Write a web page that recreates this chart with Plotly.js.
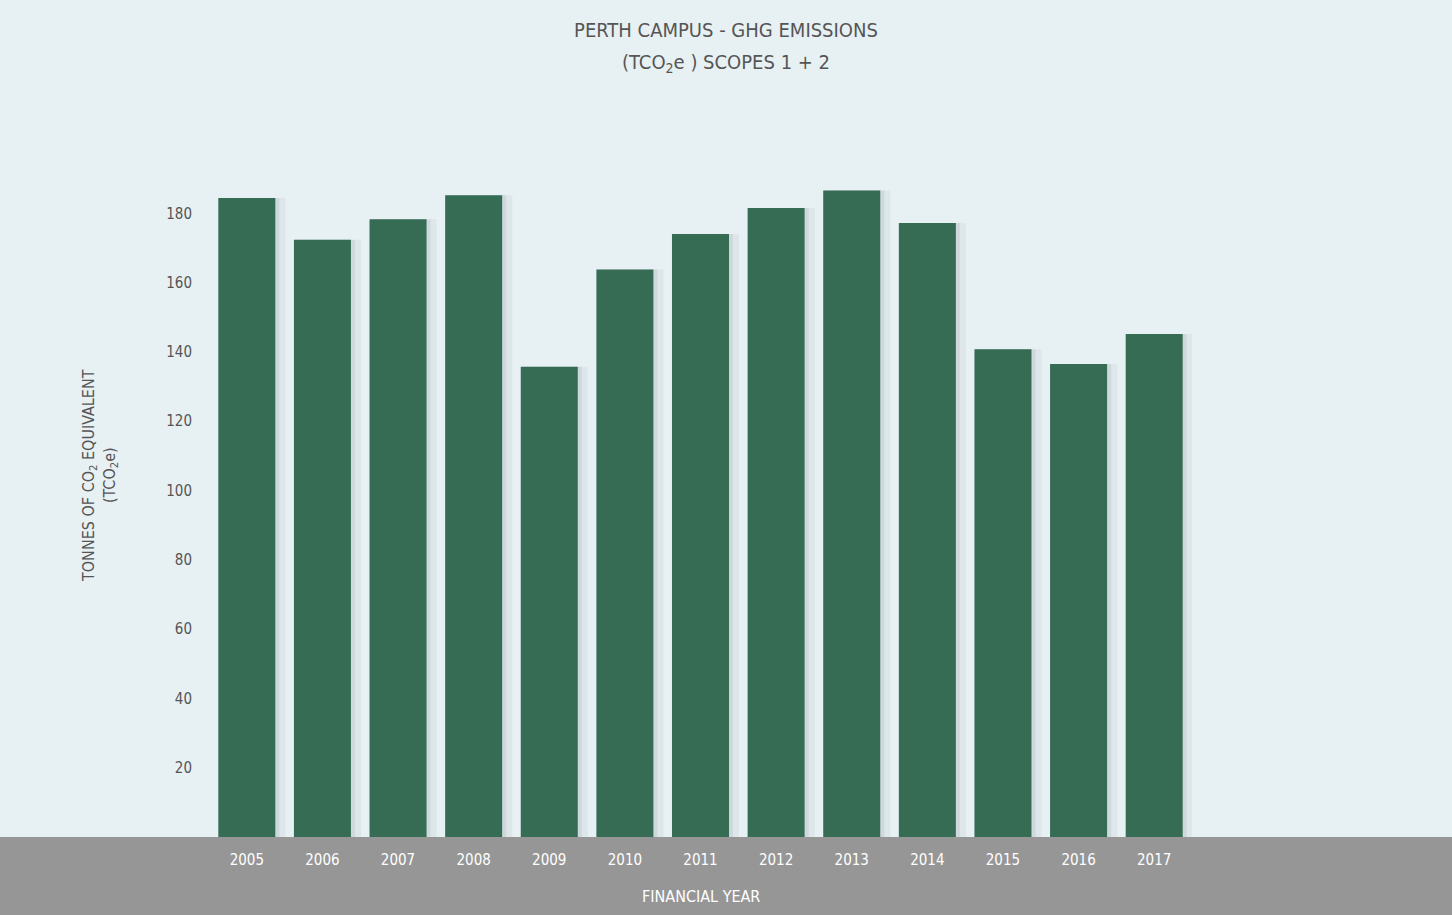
<!DOCTYPE html>
<html>
<head>
<meta charset="utf-8">
<script src="https://cdn.plot.ly/plotly-3.0.1.min.js"></script>
<style>
  html, body { margin: 0; padding: 0; background: #e7f0f3; }
  #chart { width: 1452px; height: 915px; }
</style>
</head>
<body>
<div id="chart"></div>
<script>
const years = ["2005","2006","2007","2008","2009","2010","2011","2012","2013","2014","2015","2016","2017"];
const emissions = [184.4, 172.4, 178.3, 185.2, 135.7, 163.8, 174.0, 181.5, 186.6, 177.2, 140.8, 136.5, 145.2];
const yTicks = [20, 40, 60, 80, 100, 120, 140, 160, 180];

const FONT = "DejaVu Sans Condensed, DejaVu Sans, sans-serif";
const TEXT = "#555555";

function shadowTrace(offset, width, alpha) {
  return {
    type: "bar",
    x: years,
    y: emissions,
    width: width,
    offset: offset,
    marker: { color: "rgba(70,80,85," + alpha + ")", line: { width: 0 } },
    hoverinfo: "skip",
    showlegend: false
  };
}

const bars = {
  type: "bar",
  x: years,
  y: emissions,
  width: 0.754,
  marker: { color: "#366b54", line: { width: 0 } },
  showlegend: false
};

const layout = {
  width: 1452,
  height: 915,
  paper_bgcolor: "#e7f0f3",
  plot_bgcolor: "rgba(0,0,0,0)",
  margin: { l: 209, r: 260, t: 144, b: 78 },
  barmode: "overlay",
  title: {
    text: "PERTH CAMPUS - GHG EMISSIONS",
    x: 0.5, xanchor: "center",
    y: 1 - 30 / 915, yanchor: "middle",
    font: { family: FONT, size: 20, color: TEXT, stretch: "condensed" }
  },
  xaxis: {
    type: "category",
    range: [-0.5, 12.5],
    showgrid: false, zeroline: false, showline: false,
    ticks: "outside", ticklen: 9, tickcolor: "rgba(0,0,0,0)",
    tickfont: { family: FONT, size: 15, color: "#ffffff", stretch: "condensed" },
    fixedrange: true
  },
  yaxis: {
    range: [0, 200],
    tickvals: yTicks,
    ticktext: yTicks.map(String),
    showgrid: false, zeroline: false, showline: false,
    ticks: "outside", ticklen: 13, tickcolor: "rgba(0,0,0,0)",
    tickfont: { family: FONT, size: 15, color: TEXT, stretch: "condensed" },
    fixedrange: true
  },
  shapes: [{
    type: "rect", xref: "paper", yref: "paper",
    x0: -0.3, x1: 1.4, y0: -0.2, y1: 0,
    fillcolor: "#969696", line: { width: 0 }, layer: "below"
  }],
  annotations: [
    {
      text: "(TCO<sub>2</sub>e ) SCOPES 1 + 2",
      xref: "paper", yref: "paper",
      x: (726 - 209) / 983, y: (837 - 63) / 693,
      xanchor: "center", yanchor: "middle",
      showarrow: false,
      font: { family: FONT, size: 20, color: TEXT, stretch: "condensed" }
    },
    {
      text: "TONNES OF CO<sub>2</sub> EQUIVALENT<br>(TCO<sub>2</sub>e)",
      xref: "paper", yref: "paper",
      x: (100 - 209) / 983, y: (837 - 476) / 693,
      xanchor: "center", yanchor: "middle",
      textangle: -90, showarrow: false,
      font: { family: FONT, size: 16, color: TEXT, stretch: "condensed" }
    },
    {
      text: "FINANCIAL YEAR",
      xref: "paper", yref: "paper",
      x: 0.5, y: (837 - 896) / 693,
      xanchor: "center", yanchor: "middle",
      showarrow: false,
      font: { family: FONT, size: 16, color: "#ffffff", stretch: "condensed" }
    }
  ]
};

Plotly.newPlot("chart",
  [shadowTrace(-0.33, 0.84, 0.06), shadowTrace(-0.35, 0.78, 0.09), bars],
  layout, { displayModeBar: false, staticPlot: true });
</script>
</body>
</html>
